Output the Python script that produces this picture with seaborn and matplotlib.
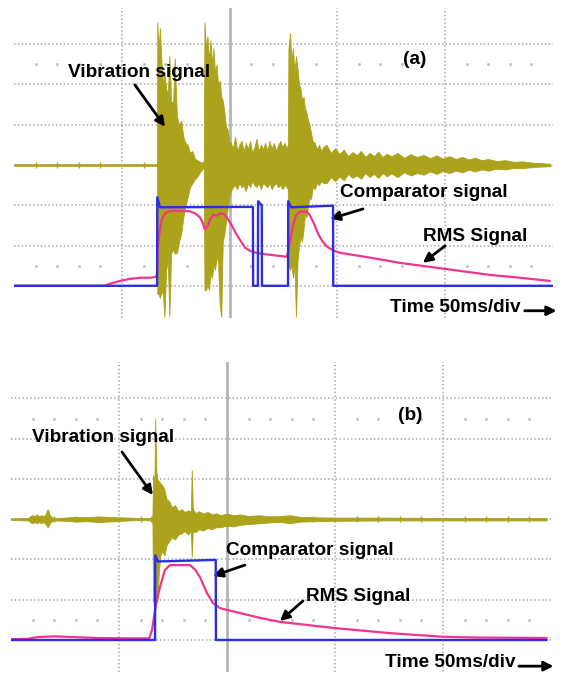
import numpy as np
import pandas as pd
import matplotlib
matplotlib.use("Agg")
import matplotlib.pyplot as plt
import seaborn as sns

sns.set_style("white")
plt.rcParams["font.family"] = ["Liberation Sans", "DejaVu Sans"]
plt.rcParams["text.color"] = "black"

# ---------------- data (time in ms, amplitude in divisions) ----------------
# Panel (a) vibration envelope
vib_a_t = [0, 66.0, 66.3, 66.4, 67.0, 67.6, 68.3, 69.0, 69.7, 70.5, 71.3, 72.0, 72.8, 73.7, 74.5, 75.5,
           76.5, 77.5, 78.5, 79.5, 80.5, 81.6, 82.7, 83.9, 85.1, 86.2, 87.3,
           88.0, 88.3, 89.0, 89.7, 90.4, 91.1, 91.8, 92.5, 93.2, 93.9, 94.6, 95.4, 96.1, 96.8, 97.6,
           98.3, 99.0, 99.8, 100.6,
           101.5, 102.5, 103.5, 104.5, 105.5, 106.5, 107.5, 108.5, 109.5, 110.5, 111.5, 112.5, 113.5,
           114.5, 115.5, 116.5, 117.5, 118.5, 119.5, 120.5, 121.5, 122.5, 123.5, 124.5, 125.5, 126.5,
           127.0, 127.3, 128.0, 128.7, 129.4, 130.1, 130.8, 131.5, 132.2, 132.9, 133.6, 134.3, 135.0,
           135.7, 136.4, 137.1, 137.8, 138.5, 139.5, 140.5, 141.5, 142.5, 143.5,
           145, 147, 149, 151, 153, 155, 157, 159, 161, 163, 165, 167, 169, 171, 173, 175, 178, 181,
           184, 187, 190, 193, 196, 199, 202, 205, 208, 211, 214, 217, 220, 224, 228, 232, 236, 240,
           244, 249]
vib_a_hi = [3.02, 3.02, 3.0, 6.55, 5.85, 6.4, 5.6, 5.0, 5.3, 4.9, 4.75, 5.7, 4.6, 4.5, 5.65, 4.2,
            4.0, 4.1, 3.7, 3.55, 3.5, 3.3, 3.35, 3.15, 3.12, 3.08, 3.06,
            3.1, 6.55, 5.9, 6.2, 5.6, 6.1, 5.5, 5.9, 5.3, 5.5, 5.0, 5.1, 4.7, 4.6, 4.3,
            3.95, 3.9, 3.6, 3.55,
            3.4, 3.7, 3.35, 3.5, 3.6, 3.35, 3.55, 3.4, 3.6, 3.3, 3.45, 3.65, 3.35,
            3.5, 3.4, 3.55, 3.35, 3.6, 3.4, 3.55, 3.35, 3.5, 3.6, 3.45, 3.55, 3.4,
            3.5, 5.9, 6.28, 5.6, 5.9, 5.3, 5.7, 5.4, 5.0, 4.9, 4.6, 4.7, 4.4,
            4.3, 4.1, 4.0, 3.8, 3.6, 3.55, 3.4, 3.5, 3.35, 3.45,
            3.5, 3.3, 3.42, 3.28, 3.38, 3.22, 3.32, 3.25, 3.35, 3.2, 3.3, 3.22, 3.33, 3.2, 3.28, 3.22, 3.3, 3.18,
            3.27, 3.2, 3.25, 3.17, 3.24, 3.16, 3.22, 3.15, 3.2, 3.14, 3.18, 3.12, 3.15, 3.1, 3.12, 3.08, 3.09, 3.06,
            3.05, 3.03]
vib_a_lo = [2.98, 2.98, 3.0, -0.2, -0.2, -0.3, -0.15, -0.2, -0.77, 0.4, 0.6, -0.77, 0.8, 0.9, 0.8, 0.82,
            1.1, 1.3, 1.7, 2.0, 2.2, 2.45, 2.55, 2.65, 2.72, 2.82, 2.9,
            2.9, -0.1, -0.1, 0.0, -0.1, 0.3, 0.2, 0.5, 0.4, 0.7, 0.6, -0.5, -0.77, 1.1, 1.3,
            1.6, 1.9, 2.2, 2.35,
            2.45, 2.5, 2.4, 2.55, 2.45, 2.5, 2.35, 2.55, 2.45, 2.6, 2.5, 2.45, 2.55,
            2.4, 2.55, 2.5, 2.45, 2.55, 2.4, 2.5, 2.55, 2.45, 2.5, 2.4, 2.5, 2.45,
            2.4, 0.5, 0.4, 0.5, 0.2, 0.5, -0.77, 0.6, 1.0, 1.2, 1.1, 1.4, 1.8,
            1.7, 2.0, 2.2, 2.15, 2.45, 2.4, 2.55, 2.5, 2.6, 2.55,
            2.55, 2.7, 2.6, 2.72, 2.62, 2.78, 2.68, 2.74, 2.66, 2.8, 2.7, 2.78, 2.68, 2.8, 2.72, 2.79, 2.7, 2.82,
            2.74, 2.8, 2.76, 2.84, 2.78, 2.85, 2.8, 2.86, 2.82, 2.88, 2.84, 2.89, 2.86, 2.91, 2.89, 2.93, 2.92, 2.95,
            2.96, 2.97]

# Panel (a) comparator signal
cmp_a_t = [0, 66.3, 66.4, 67.6, 110.8, 110.9, 113.1, 113.2, 114.9, 115.0, 127.1, 127.2, 128.5, 148.0, 148.1, 250]
cmp_a_v = [0, 0, 2.2, 1.95, 1.96, 0, 0, 2.1, 2.0, 0, 0, 2.1, 1.95, 1.99, 0, 0]

# Panel (a) RMS signal
rms_a_t = [0, 42, 44.4, 49, 53.7, 58.4, 63, 65.8, 66.3, 66.7, 67.6, 68.5, 70, 72.3, 76.9, 81.5, 83.9,
           86.2, 87.6, 88.5, 89.9, 90.9, 92.3, 94.1, 95.5, 97.4, 99.2, 101, 102.9, 104.8, 107.1, 109.4,
           111.7, 114.1, 118.7, 123.4, 126.6, 127.1, 128, 129.4, 130.8, 132.6, 135.9, 137.3, 139.1, 141,
           142.9, 145.2, 148, 151.2, 165.1, 179, 193, 206.9, 220.9, 234.8, 248.7]
rms_a_v = [0, 0, 0.05, 0.12, 0.17, 0.2, 0.2, 0.22, 0.3, 1.0, 1.4, 1.65, 1.8, 1.86, 1.86, 1.85, 1.8,
           1.7, 1.55, 1.4, 1.5, 1.65, 1.76, 1.74, 1.8, 1.78, 1.65, 1.5, 1.3, 1.14, 0.95, 0.87,
           0.83, 0.8, 0.77, 0.74, 0.72, 0.85, 1.1, 1.5, 1.75, 1.84, 1.84, 1.75, 1.55, 1.3,
           1.12, 0.97, 0.88, 0.82, 0.7, 0.57, 0.47, 0.37, 0.27, 0.2, 0.12]

# Panel (b) vibration envelope
vib_b_t = [0, 8, 9, 10, 11, 12, 13, 14, 15, 16, 17, 18, 19, 20, 25, 30, 35, 41, 48, 55, 60, 64.5,
           65.5, 65.8, 66.4, 66.8, 67.3, 67.8, 68.4, 69.1, 70, 71, 72, 73.2, 74.5, 76, 77.5, 79, 80.5,
           82, 83.3, 83.7, 84.2, 85.5, 87, 89, 91, 93, 95, 97, 100, 103, 106, 110, 115, 120, 125, 129,
           134, 140, 150, 175, 200, 248]
vib_b_hi = [3.02, 3.03, 3.08, 3.1, 3.08, 3.12, 3.07, 3.1, 3.08, 3.12, 3.25, 3.1, 3.05, 3.03, 3.04, 3.06,
            3.05, 3.07, 3.05, 3.04, 3.03, 3.03,
            3.1, 4.1, 3.95, 5.5, 4.2, 4.0, 3.95, 3.9, 3.85, 3.75, 3.5, 3.45, 3.3, 3.35, 3.2, 3.25, 3.18,
            3.22, 3.2, 4.22, 3.25, 3.15, 3.2, 3.14, 3.18, 3.12, 3.15, 3.1, 3.14, 3.1, 3.12, 3.08, 3.1,
            3.07, 3.08, 3.1, 3.06, 3.05, 3.04, 3.04, 3.03, 3.03]
vib_b_lo = [2.98, 2.97, 2.92, 2.9, 2.93, 2.9, 2.93, 2.9, 2.93, 2.88, 2.8, 2.9, 2.95, 2.97, 2.96, 2.94,
            2.95, 2.93, 2.95, 2.97, 2.98, 2.97,
            2.9, 0.95, 1.2, 0.92, 1.1, 0.95, 1.6, 2.1, 2.2, 2.1, 2.35, 2.45, 2.55, 2.5, 2.62, 2.65, 2.7,
            2.62, 2.7, 2.06, 2.7, 2.68, 2.75, 2.72, 2.78, 2.75, 2.8, 2.8, 2.84, 2.82, 2.86, 2.88, 2.9,
            2.92, 2.93, 2.9, 2.94, 2.95, 2.96, 2.97, 2.97, 2.97]

# Panel (b) comparator signal
cmp_b_t = [0, 66.7, 66.8, 68.0, 94.8, 94.9, 248]
cmp_b_v = [0, 0, 2.1, 1.95, 1.99, 0, 0]

# Panel (b) RMS signal
rms_b_t = [0, 8, 12, 20, 30, 40, 55, 64, 65.3, 66.7, 67.6, 69, 71.3, 73.6, 78.2, 82.9, 85.2, 87.5,
           90.7, 93.5, 96.8, 106, 115.3, 124.5, 149.1, 175.5, 200, 217, 248]
rms_b_v = [0.02, 0.03, 0.07, 0.09, 0.07, 0.05, 0.04, 0.04, 0.25, 0.74, 1.0, 1.32, 1.74, 1.86, 1.86, 1.86,
           1.75, 1.56, 1.17, 0.92, 0.79, 0.67, 0.55, 0.45, 0.3, 0.17, 0.08, 0.06, 0.05]

# ---------------- style ----------------
OLIVE = "#aca31c"
BLUE = "#2b2ee6"
PINK = "#f2358c"
GRID = "#a8a8a8"

fig = plt.figure(figsize=(5.63, 6.73), dpi=100)
ax_a = fig.add_axes([0.0254, 0.5275, 0.9563, 0.4606])
ax_b = fig.add_axes([0.0195, 0.0012, 0.9590, 0.4606])


def draw_panel(ax, vt, vhi, vlo, ct, cv, rt, rv):
    ax.set_xlim(0, 250)
    ax.set_ylim(-0.8, 6.9)
    for s in ax.spines.values():
        s.set_visible(False)
    ax.set_xticks([])
    ax.set_yticks([])
    # graticule
    for yv in range(0, 7):
        ax.axhline(yv, color=GRID, lw=1.1, ls=(0, (1, 1.5)), zorder=0)
    for xv in (50, 150, 200):
        ax.axvline(xv, color=GRID, lw=1.1, ls=(0, (1, 1.5)), zorder=0)
    ax.axvline(100, color="#b5b5b5", lw=2.0, zorder=0)
    minor = [m for m in np.arange(10, 250, 10) if m % 50 != 0]
    for yv in (0.5, 5.5):
        ax.plot(minor, [yv] * len(minor), ls="none", marker="s", ms=1.0, color="#c2c2c2", zorder=0)
    ax.plot(minor, [3] * len(minor), ls="none", marker="|", ms=5, mew=1.0, color=OLIVE, zorder=1)
    # vibration signal
    ax.fill_between(vt, vlo, vhi, color=OLIVE, lw=0.6, edgecolor=OLIVE, zorder=2)
    # RMS and comparator
    sns.lineplot(x=rt, y=rv, ax=ax, color=PINK, lw=1.6, estimator=None, sort=False, zorder=3)
    sns.lineplot(x=ct, y=cv, ax=ax, color=BLUE, lw=1.7, estimator=None, sort=False, zorder=4)
    ax.set_xlabel("")
    ax.set_ylabel("")


draw_panel(ax_a, vib_a_t, vib_a_hi, vib_a_lo, cmp_a_t, cmp_a_v, rms_a_t, rms_a_v)
draw_panel(ax_b, vib_b_t, vib_b_hi, vib_b_lo, cmp_b_t, cmp_b_v, rms_b_t, rms_b_v)

FS = 13.7
AP = dict(arrowstyle="-|>", color="black", lw=2.0, mutation_scale=14, shrinkA=0, shrinkB=0)
TXT = dict(fontsize=FS, fontweight="bold", ha="left", va="center", color="black", zorder=6)

# Panel (a) annotations
ax_a.text(186, 5.61, "(a)", **{**TXT, "ha": "center"})
ax_a.text(24.9, 5.29, "Vibration signal", **TXT)
ax_a.annotate("", xy=(70, 3.95), xytext=(56, 4.99), arrowprops=AP, annotation_clip=False)
ax_a.text(151.2, 2.31, "Comparator signal", **TXT)
ax_a.annotate("", xy=(146.6, 1.66), xytext=(161.9, 1.91), arrowprops=AP, annotation_clip=False)
ax_a.text(189.7, 1.22, "RMS Signal", **TXT)
ax_a.annotate("", xy=(189.7, 0.57), xytext=(200, 0.99), arrowprops=AP, annotation_clip=False)
ax_a.text(174.4, -0.55, "Time 50ms/div", **TXT)
ax_a.annotate("", xy=(251.8, -0.62), xytext=(237, -0.62), arrowprops=AP, annotation_clip=False)

# Panel (b) annotations
ax_b.text(184.7, 5.58, "(b)", **{**TXT, "ha": "center"})
ax_b.text(9.7, 5.04, "Vibration signal", **TXT)
ax_b.annotate("", xy=(65.7, 3.6), xytext=(51.4, 4.67), arrowprops=AP, annotation_clip=False)
ax_b.text(99.5, 2.23, "Comparator signal", **TXT)
ax_b.annotate("", xy=(93.5, 1.59), xytext=(108.3, 1.86), arrowprops=AP, annotation_clip=False)
ax_b.text(136.6, 1.07, "RMS Signal", **TXT)
ax_b.annotate("", xy=(124.5, 0.47), xytext=(135.2, 0.97), arrowprops=AP, annotation_clip=False)
ax_b.text(173.1, -0.55, "Time 50ms/div", **TXT)
ax_b.annotate("", xy=(251.2, -0.65), xytext=(235.2, -0.65), arrowprops=AP, annotation_clip=False)

fig.savefig("out.png", dpi=100, facecolor="white")
